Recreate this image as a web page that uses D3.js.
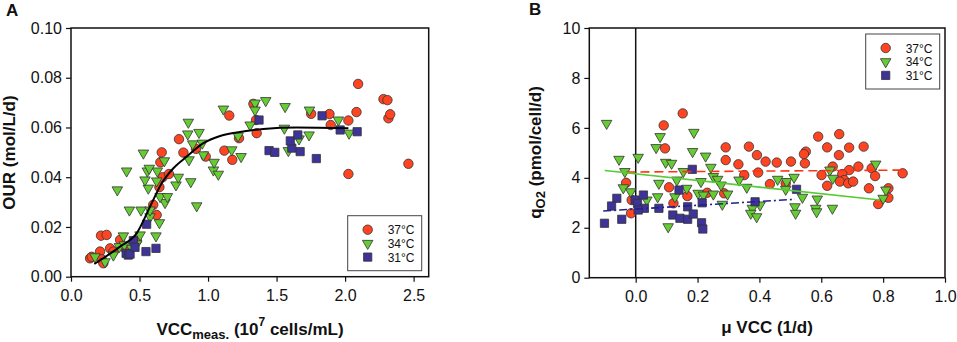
<!DOCTYPE html>
<html>
<head>
<meta charset="utf-8">
<script src="https://cdn.jsdelivr.net/npm/d3@7"></script>
<style>
    body { margin: 0; background: #fff; }
    svg { font-family: "Liberation Sans", Arial, sans-serif; }
    .tick text { font-size: 16px; fill: #111; }
    .tick line { stroke: #111; stroke-width: 1.2; }
    .title { font-weight: bold; font-size: 17px; fill: #111; }
    .legend text { font-size: 12px; fill: #111; }
</style>
</head>
<body>
<div id="chart"></div>
<script>
// series names and colours
const seriesNames = ['37°C', '34°C', '31°C'];
const seriesColors = ['#ff4422', '#66cc33', '#3d3399'];

// panel A: OUR vs VCC (10^7 cells/mL, mol/L/d)
const aRed = [[0.139,0.0074],[0.151,0.008],[0.212,0.0101],[0.224,0.007],[0.236,0.0054],[0.219,0.0165],[0.26,0.0168],
    [0.285,0.0114],[0.309,0.0101],[0.358,0.0148],[0.394,0.0114],[0.48,0.0145],[0.6,0.0289],[0.625,0.0248],[0.645,0.036],
    [0.669,0.040],[0.715,0.0413],[0.652,0.046],[0.662,0.050],[0.788,0.0553],[0.82,0.0499],[0.912,0.0514],[0.983,0.0483],
    [1.119,0.0507],[1.177,0.047],[1.155,0.0648],[1.226,0.0557],[1.331,0.0695],[1.35,0.063],[1.355,0.0577],[1.752,0.0655],
    [1.886,0.0654],[1.895,0.061],[2.024,0.0628],[2.083,0.0662],[2.095,0.0775],[2.28,0.0714],[2.309,0.071],[2.316,0.0637],
    [2.329,0.0653],[2.024,0.0413],[2.462,0.0454]];
const aGreen = [[0.175,0.008],[0.248,0.006],[0.309,0.0087],[0.353,0.0121],[0.389,0.0128],[0.443,0.0114],[0.48,0.0132],
    [0.382,0.0164],[0.504,0.0168],[0.62,0.0164],[0.645,0.0217],[0.577,0.0241],[0.426,0.0268],[0.511,0.0268],[0.577,0.0268],
    [0.686,0.0298],[0.65,0.0322],[0.703,0.0322],[0.917,0.0285],[0.338,0.0349],[0.564,0.0356],[0.766,0.0369],[0.54,0.0389],
    [0.625,0.0385],[0.874,0.0382],[0.783,0.040],[0.406,0.0425],[0.557,0.0425],[0.63,0.0425],[0.571,0.0436],[1.039,0.0429],
    [1.075,0.0412],[0.528,0.0497],[0.681,0.0466],[0.861,0.047],[0.966,0.049],[1.044,0.046],[0.888,0.0534],[0.958,0.0537],
    [0.852,0.0574],[0.934,0.058],[0.856,0.0621],[1.112,0.0674],[1.173,0.051],[1.241,0.0483],[1.219,0.0566],[1.307,0.061],
    [1.343,0.0698],[1.343,0.067],[1.421,0.0708],[1.562,0.0684],[1.557,0.0597],[1.586,0.0507],[1.664,0.0554],[1.737,0.057],
    [1.74,0.067],[1.951,0.063],[2.029,0.0577]];
const aBlue = [[0.402,0.0094],[0.418,0.0087],[0.431,0.0091],[0.455,0.0145],[0.467,0.0118],[0.547,0.0101],[0.62,0.0114],
    [0.552,0.0211],[1.372,0.063],[1.445,0.0507],[1.487,0.050],[1.611,0.0517],[1.6,0.0546],[1.655,0.057],[1.672,0.0503],
    [1.79,0.0475],[1.832,0.0647],[1.964,0.059],[2.088,0.0583]];
const aFit = [[0.17,0.0051],[0.358,0.0121],[0.48,0.0175],[0.577,0.0282],[0.662,0.0376],[0.747,0.0436],[0.845,0.0483],
    [0.966,0.0537],[1.088,0.0566],[1.21,0.058],[1.404,0.0594],[1.647,0.06],[2.024,0.0597]];
const aTicksX = [0, 0.5, 1.0, 1.5, 2.0, 2.5];
const aTicksY = [0, 0.02, 0.04, 0.06, 0.08, 0.10];

// panel B: qO2 vs mu VCC (1/d, pmol/cell/d)
const bRed = [[0.152,6.58],[0.0905,6.10],[0.095,5.18],[0.291,5.22],[0.291,4.71],[0.332,4.54],[0.366,5.25],[0.392,4.91],
    [0.396,4.21],[0.351,4.11],[-0.031,3.80],[0.108,3.62],[0.167,3.27],[0.231,3.40],[0.286,3.38],[-0.013,3.11],[0.122,2.98],
    [-0.015,2.58],[0.59,5.65],[0.658,5.75],[0.619,5.22],[0.69,5.21],[0.737,5.25],[0.657,4.91],[0.55,5.05],[0.544,4.95],
    [0.547,4.58],[0.42,4.65],[0.456,4.61],[0.502,4.65],[0.637,4.45],[0.72,4.45],[0.763,4.38],[0.69,4.31],[0.601,4.11],
    [0.668,4.15],[0.774,4.07],[0.863,4.18],[0.674,3.91],[0.66,3.85],[0.687,3.78],[0.703,3.85],[0.619,3.68],[0.754,3.58],
    [0.434,3.75],[0.485,3.78],[0.817,3.58],[0.817,3.20],[0.784,2.95]];
const bGreen = [[-0.094,6.18],[0.079,5.65],[0.188,5.82],[0.066,5.21],[0.184,5.05],[0.226,4.87],[-0.054,4.74],[0.008,4.82],
    [0.097,4.62],[0.116,4.58],[0.243,4.42],[-0.035,4.25],[0.154,4.25],[0.251,4.05],[0.265,3.94],[0.133,3.91],[0.211,3.85],
    [0.334,3.91],[0.075,3.78],[0.276,3.71],[0.359,3.62],[-0.04,3.60],[-0.016,3.44],[0.165,3.58],[0.202,3.38],[0.219,3.31],
    [0.251,3.35],[0.297,3.35],[0.036,3.11],[0.071,3.24],[0.127,3.24],[0.28,2.94],[0.377,2.78],[0.372,2.58],[0.391,2.44],
    [0.105,2.04],[0.776,4.55],[0.628,4.31],[0.637,3.98],[0.459,3.94],[0.488,3.85],[0.512,4.02],[0.485,3.54],[0.809,3.51],
    [0.8,3.18],[0.539,3.22],[0.587,3.15],[0.402,2.91],[0.515,2.84],[0.517,2.58],[0.582,2.78],[0.585,2.64],[0.636,2.78]];
const bBlue = [[-0.101,2.18],[-0.061,3.18],[-0.078,2.87],[-0.045,2.34],[-0.002,3.11],[0.006,2.98],[0.025,3.31],[0.028,2.78],
    [0.008,2.71],[0.075,2.78],[0.14,3.51],[0.12,2.51],[0.143,2.38],[0.168,2.84],[0.168,2.34],[0.186,2.55],[0.183,4.34],
    [0.215,3.00],[0.213,2.20],[0.217,1.95],[0.386,3.04],[0.52,3.54]];
const bRedFit = [[-0.03,4.23],[0.865,4.31]];
const bGreenFit = [[-0.1,4.29],[0.79,3.11]];
const bBlueFit = [[-0.105,2.67],[0.515,3.14]];
const bTicksX = [0, 0.2, 0.4, 0.6, 0.8, 1.0];
const bTicksY = [0, 2, 4, 6, 8, 10];

const width = 957, height = 342;
const symbolTypes = [d3.symbolCircle, d3.symbolTriangle, d3.symbolSquare];
const symbolSizes = [70, 48, 68];

const svg = d3.select('#chart').append('svg')
    .attr('width', width)
    .attr('height', height);

function drawMarkers(g, data, idx, sx, sy) {
    let sym = d3.symbol().type(symbolTypes[idx]).size(symbolSizes[idx]);
    g.append('g').selectAll('path')
        .data(data)
        .enter()
        .append('path')
            .attr('d', sym)
            .attr('transform', d => `translate(${ sx(d[0]) },${ sy(d[1]) })` + (idx == 1 ? ' rotate(180)' : ''))
            .attr('fill', seriesColors[idx])
            .attr('stroke', '#333')
            .attr('stroke-width', 0.8);
}

function drawAxes(g, sx, sy, ticksX, ticksY, fmtX, fmtY) {
    let [x0, x1] = sx.range();
    let [y0, y1] = sy.range();
    g.append('g')
        .attr('transform', `translate(0,${ y0 })`)
        .call(d3.axisBottom(sx).tickValues(ticksX).tickFormat(fmtX).tickSize(5).tickSizeOuter(0).tickPadding(8))
        .call(a => a.select('.domain').remove());
    g.append('g')
        .attr('transform', `translate(${ x0 },0)`)
        .call(d3.axisLeft(sy).tickValues(ticksY).tickFormat(fmtY).tickSize(5).tickSizeOuter(0).tickPadding(4))
        .call(a => a.select('.domain').remove());
    g.selectAll('.tick text').attr('font-family', null).attr('font-size', null);
    g.append('rect')
        .attr('x', x0).attr('y', y1)
        .attr('width', x1 - x0).attr('height', y0 - y1)
        .attr('fill', 'none')
        .attr('stroke', '#111')
        .attr('stroke-width', 1.5);
}

function drawLegend(g, x, y) {
    let leg = g.append('g').attr('class', 'legend');
    leg.append('rect')
        .attr('x', x).attr('y', y)
        .attr('width', 74).attr('height', 55)
        .attr('fill', '#fff')
        .attr('stroke', '#444')
        .attr('stroke-width', 1);
    seriesNames.forEach((name, i) => {
        let ry = y + 14 + i * 13.7;
        leg.append('path')
            .attr('d', d3.symbol().type(symbolTypes[i]).size(symbolSizes[i]))
            .attr('transform', `translate(${ x + 20 },${ ry })` + (i == 1 ? ' rotate(180)' : ''))
            .attr('fill', seriesColors[i])
            .attr('stroke', '#333')
            .attr('stroke-width', 0.8);
        leg.append('text')
            .attr('x', x + 40)
            .attr('y', ry + 4.5)
            .text(name);
    });
}

// ---- panel A
let gA = svg.append('g');
let xA = d3.scaleLinear().domain([0, 2.61]).range([71, 428.7]);
let yA = d3.scaleLinear().domain([0, 0.1]).range([276.7, 28]);
drawAxes(gA, xA, yA, aTicksX, aTicksY, d3.format('.1f'), d3.format('.2f'));
[aRed, aGreen, aBlue].forEach((data, i) => drawMarkers(gA, data, i, xA, yA));
gA.append('path')
    .datum(aFit)
    .attr('d', d3.line().x(d => xA(d[0])).y(d => yA(d[1])).curve(d3.curveMonotoneX))
    .attr('fill', 'none')
    .attr('stroke', '#000')
    .attr('stroke-width', 2);
drawLegend(gA, 347.7, 215.7);

gA.append('text').attr('class', 'title').attr('x', 6).attr('y', 16).attr('font-size', 14).text('A');
gA.append('text').attr('class', 'title')
    .attr('transform', 'translate(15,152.5) rotate(-90)')
    .attr('text-anchor', 'middle')
    .text('OUR (mol/L/d)');
let tA = gA.append('text').attr('class', 'title')
    .attr('x', 250).attr('y', 335)
    .attr('text-anchor', 'middle');
tA.append('tspan').text('VCC');
tA.append('tspan').attr('font-size', 13).attr('dy', 4).text('meas.');
tA.append('tspan').attr('dy', -4).text(' (10');
tA.append('tspan').attr('font-size', 12).attr('dy', -9).text('7');
tA.append('tspan').attr('dy', 9).text(' cells/mL)');

// ---- panel B
let gB = svg.append('g');
let xB = d3.scaleLinear().domain([-0.15, 1.0]).range([589.3, 945]);
let yB = d3.scaleLinear().domain([0, 10]).range([277.7, 28]);
drawAxes(gB, xB, yB, bTicksX, bTicksY, d3.format('.1f'), d3.format('d'));
gB.append('line')
    .attr('x1', xB(0)).attr('x2', xB(0))
    .attr('y1', yB(0)).attr('y2', yB(10))
    .attr('stroke', '#111')
    .attr('stroke-width', 1.5);
[bRed, bGreen, bBlue].forEach((data, i) => drawMarkers(gB, data, i, xB, yB));
let fitLine = d3.line().x(d => xB(d[0])).y(d => yB(d[1]));
[[bRedFit, '#ff3311', '9,5'], [bGreenFit, '#55cc33', null], [bBlueFit, '#22228a', '8,3,2,3']].forEach(f => {
    gB.append('path')
        .datum(f[0])
        .attr('d', fitLine)
        .attr('fill', 'none')
        .attr('stroke', f[1])
        .attr('stroke-width', 1.6)
        .attr('stroke-dasharray', f[2]);
});
drawLegend(gB, 865.7, 34);

gB.append('text').attr('class', 'title').attr('x', 529).attr('y', 15).attr('font-size', 14).text('B');
let tBy = gB.append('text').attr('class', 'title')
    .attr('transform', 'translate(541,152.5) rotate(-90)')
    .attr('text-anchor', 'middle');
tBy.append('tspan').text('q');
tBy.append('tspan').attr('font-size', 13).attr('dy', 4).text('O2');
tBy.append('tspan').attr('dy', -4).text(' (pmol/cell/d)');
gB.append('text').attr('class', 'title')
    .attr('x', 767).attr('y', 333)
    .attr('text-anchor', 'middle')
    .text('μ VCC (1/d)');
</script>
</body>
</html>
